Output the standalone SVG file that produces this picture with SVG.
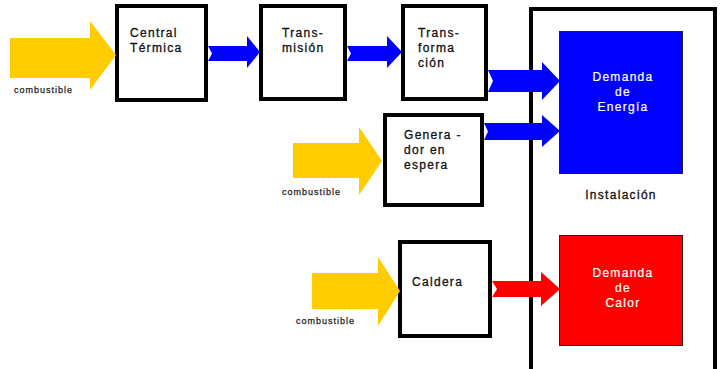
<svg xmlns="http://www.w3.org/2000/svg" width="721" height="369" viewBox="0 0 721 369">
<style>
.box{fill:#fff;stroke:#000;stroke-width:4}
.t{font-family:"Liberation Sans",Arial,sans-serif;font-size:12px;letter-spacing:1.3px;fill:#111;stroke:#111;stroke-width:0.3}
.w{font-family:"Liberation Sans",Arial,sans-serif;font-size:12px;letter-spacing:1.3px;fill:#fff;stroke:#fff;stroke-width:0.2;text-anchor:middle}
.c{font-family:"Liberation Sans",Arial,sans-serif;font-size:9px;letter-spacing:1px;fill:#222;stroke:#222;stroke-width:0.25}
.y{fill:#FFCC00}
.b{fill:#0000FF}
.r{fill:#FF0000}
</style>
<rect width="721" height="369" fill="#fff"/>
<g id="instalacion">
<rect x="531" y="9" width="184" height="364" fill="#fff" stroke="#000" stroke-width="4"/>
<text class="t" x="621" y="199" text-anchor="middle">Instalación</text>
</g>
<g id="demanda-energia">
<rect x="559.5" y="31.5" width="123" height="142" fill="#0000FF" stroke="#222" stroke-width="1"/>
<text class="w" x="623" y="81">Demanda</text>
<text class="w" x="623" y="96">de</text>
<text class="w" x="623" y="111">Energía</text>
</g>
<g id="demanda-calor">
<rect x="559.5" y="235.5" width="123" height="110" fill="#FF0000" stroke="#222" stroke-width="1"/>
<text class="w" x="623" y="277">Demanda</text>
<text class="w" x="623" y="292">de</text>
<text class="w" x="623" y="307">Calor</text>
</g>
<g id="central">
<rect class="box" x="117" y="6" width="89" height="94"/>
<text class="t" x="130" y="37">Central</text>
<text class="t" x="130" y="52">Térmica</text>
</g>
<g id="transmision">
<rect class="box" x="261" y="6" width="84" height="93"/>
<text class="t" x="282" y="37">Trans-</text>
<text class="t" x="282" y="52">misión</text>
</g>
<g id="transformacion">
<rect class="box" x="403" y="6" width="83" height="93"/>
<text class="t" x="418" y="37">Trans-</text>
<text class="t" x="418" y="52">forma</text>
<text class="t" x="418" y="67">ción</text>
</g>
<g id="generador">
<rect class="box" x="385" y="115" width="97" height="90"/>
<text class="t" x="404" y="139">Genera -</text>
<text class="t" x="404" y="154">dor en</text>
<text class="t" x="404" y="169">espera</text>
</g>
<g id="caldera">
<rect class="box" x="400" y="242" width="90" height="94"/>
<text class="t" x="412" y="286">Caldera</text>
</g>
<g id="labels">
<text class="c" x="14" y="93">combustible</text>
<text class="c" x="282" y="195">combustible</text>
<text class="c" x="296" y="324">combustible</text>
</g>
<g id="connectors">
<polygon class="y" points="10,38 90,38 90,21 116,55 90,90 90,78 10,78"/>
<polygon class="y" points="293,143 359,143 359,127 382,161 359,195 359,178 293,178"/>
<polygon class="y" points="312,273 378,273 378,257 400,291 378,326 378,309 312,309"/>
<polygon class="b" points="208,46 247,46 247,36 260,52 247,68 247,61 208,61 212,53.5"/>
<polygon class="b" points="347,46 387,46 387,36 402,52 387,68 387,61 347,61 351,53.5"/>
<polygon class="b" points="488,70 542,70 542,62 560,81 542,100 542,92 488,92 493,81"/>
<polygon class="b" points="484,123 542,123 542,115 560,131 542,147 542,140 484,140 488,131.5"/>
<polygon class="r" points="492,281 541,281 541,272 560,289 541,306 541,297 492,297 497,289"/>
</g>
</svg>
